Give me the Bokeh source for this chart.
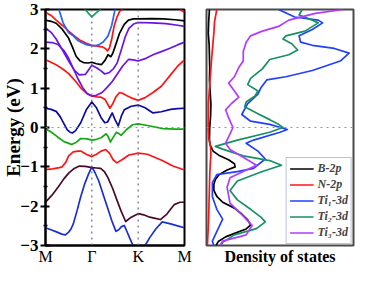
from bokeh.plotting import figure
from bokeh.models import Range1d, FixedTicker, Span, Legend, LegendItem
from bokeh.layouts import row
from bokeh.embed import file_html
from bokeh.resources import INLINE

SERIF = "Liberation Serif"

# ---------------- band structure data (k-path: M=0, Gamma=1, K=2, M=3) -------------
k_ticks = [0, 1, 2, 3]
k_labels = ["M", "Γ", "K", "M"]

band_blue_top_k = [0.18, 0.29, 0.38, 0.5, 0.6, 0.7, 0.8, 0.9, 1.0, 1.08, 1.15, 1.25, 1.35, 1.43, 1.5, 1.56]
band_blue_top_E = [3.3, 3.0, 2.66, 2.41, 2.33, 2.21, 2.15, 2.1, 2.08, 2.08, 2.1, 2.18, 2.33, 2.6, 3.0, 3.3]

band_red_top_k = [0, 0.12, 0.23, 0.36, 0.5, 0.63, 0.76, 0.88, 1.0, 1.12, 1.22, 1.3, 1.34, 1.38, 1.43, 1.48, 1.54, 1.6, 1.7, 1.8, 2.8, 2.88, 2.93, 3.0]
band_red_top_E = [2.93, 2.85, 2.73, 2.6, 2.45, 2.32, 2.21, 2.14, 2.09, 2.07, 2.05, 2.0, 1.95, 2.02, 2.25, 2.57, 2.8, 2.95, 3.05, 3.3, 3.3, 3.1, 2.98, 2.92]

band_black_k = [0, 0.12, 0.23, 0.36, 0.49, 0.58, 0.66, 0.74, 0.82, 0.92, 1.0, 1.1, 1.21, 1.28, 1.35, 1.41, 1.45, 1.5, 1.6, 1.7, 1.79, 1.9, 2.01, 2.3, 2.54, 2.8, 3.0]
band_black_E = [2.73, 2.7, 2.65, 2.5, 2.29, 2.05, 1.81, 1.7, 1.65, 1.64, 1.66, 1.62, 1.6, 1.7, 1.85, 1.8, 1.88, 2.05, 2.4, 2.62, 2.73, 2.76, 2.76, 2.77, 2.76, 2.74, 2.71]

band_violet_up_k = [0, 0.12, 0.23, 0.36, 0.5, 0.62, 0.73, 0.86, 0.94, 1.0, 1.1, 1.2, 1.28, 1.38, 1.47, 1.55, 1.63, 1.72, 1.8, 1.9, 2.0, 2.3, 2.6, 2.85, 3.0]
band_violet_up_E = [2.53, 2.42, 2.25, 1.98, 1.69, 1.46, 1.34, 1.35, 1.48, 1.58, 1.52, 1.44, 1.36, 1.4, 1.5, 1.65, 1.95, 2.3, 2.52, 2.63, 2.67, 2.66, 2.64, 2.6, 2.57]

band_violet_lo_k = [0, 0.14, 0.27, 0.4, 0.5, 0.6, 0.7, 0.8, 0.9, 1.0, 1.1, 1.22, 1.33, 1.44, 1.56, 1.67, 1.79, 1.9, 2.0, 2.15, 2.32, 2.5, 2.7, 2.85, 3.0]
band_violet_lo_E = [2.17, 2.16, 2.11, 1.95, 1.76, 1.5, 1.24, 1.02, 0.86, 0.8, 0.82, 0.89, 1.02, 1.17, 1.38, 1.57, 1.73, 1.72, 1.69, 1.75, 1.85, 1.93, 2.02, 2.1, 2.17]

band_red_mid_k = [0, 0.13, 0.25, 0.38, 0.5, 0.63, 0.76, 0.88, 1.0, 1.1, 1.2, 1.28, 1.33, 1.39, 1.45, 1.52, 1.6, 1.68, 1.76, 1.88, 2.0, 2.15, 2.32, 2.5, 2.72, 2.86, 3.0]
band_red_mid_E = [1.72, 1.65, 1.58, 1.48, 1.37, 1.2, 1.01, 0.88, 0.8, 0.78, 0.77, 0.72, 0.62, 0.49, 0.6, 0.78, 0.89, 0.86, 0.81, 0.74, 0.69, 0.76, 0.89, 1.05, 1.37, 1.57, 1.72]

band_navy_k = [0, 0.12, 0.23, 0.32, 0.4, 0.47, 0.53, 0.58, 0.65, 0.76, 0.88, 1.0, 1.1, 1.2, 1.28, 1.34, 1.44, 1.5, 1.57, 1.64, 1.7, 1.85, 2.0, 2.15, 2.32, 2.5, 2.7, 2.85, 3.0]
band_navy_E = [0.49, 0.46, 0.41, 0.27, 0.09, -0.06, -0.12, -0.14, -0.08, 0.12, 0.45, 0.65, 0.5, 0.25, 0.12, 0.14, 0.37, 0.2, 0.04, 0.3, 0.45, 0.54, 0.57, 0.5, 0.37, 0.4, 0.46, 0.48, 0.49]

band_green_k = [0, 0.13, 0.26, 0.4, 0.56, 0.66, 0.76, 0.9, 1.0, 1.1, 1.2, 1.31, 1.36, 1.4, 1.46, 1.53, 1.58, 1.63, 1.75, 1.88, 2.0, 2.2, 2.54, 2.8, 3.0]
band_green_E = [-0.03, -0.12, -0.24, -0.36, -0.43, -0.38, -0.28, -0.29, -0.32, -0.3, -0.26, -0.16, -0.25, -0.37, -0.25, -0.12, -0.15, -0.2, -0.05, 0.07, 0.09, 0.05, -0.03, -0.04, -0.04]

band_green_top_k = [0.78, 0.855, 0.93, 1.0, 1.08, 1.18, 1.25]
band_green_top_E = [3.3, 3.0, 2.9, 2.81, 2.9, 3.0, 3.3]

band_red_low_k = [0, 0.15, 0.3, 0.36, 0.44, 0.5, 0.6, 0.7, 0.76, 0.88, 1.0, 1.1, 1.2, 1.3, 1.38, 1.46, 1.54, 1.65, 1.8, 2.0, 2.2, 2.52, 2.75, 3.0]
band_red_low_E = [-1.07, -1.05, -1.02, -1.0, -0.88, -0.72, -0.62, -0.6, -0.6, -0.68, -0.74, -0.68, -0.6, -0.56, -0.65, -0.82, -0.9, -0.82, -0.7, -0.65, -0.68, -0.84, -0.98, -1.08]

band_maroon_k = [0, 0.14, 0.27, 0.4, 0.5, 0.62, 0.73, 0.86, 1.0, 1.1, 1.19, 1.27, 1.35, 1.45, 1.54, 1.63, 1.73, 1.85, 2.0, 2.12, 2.25, 2.37, 2.48, 2.62, 2.78, 2.9, 3.0]
band_maroon_E = [-1.9, -1.72, -1.52, -1.3, -1.16, -1.04, -0.98, -0.99, -1.02, -1.03, -1.04, -1.12, -1.28, -1.55, -1.84, -2.12, -2.39, -2.28, -2.19, -2.22, -2.28, -2.31, -2.34, -2.2, -1.96, -1.9, -1.9]

band_blue_low_k = [0, 0.12, 0.25, 0.35, 0.43, 0.5, 0.55, 0.6, 0.68, 0.76, 0.85, 0.93, 1.0, 1.07, 1.15, 1.25, 1.35, 1.44, 1.52, 1.58, 1.64, 1.7, 1.76, 1.82, 1.89, 1.95, 2.05, 2.12, 2.15, 2.25, 2.38, 2.52, 2.7, 2.85, 3.0]
band_blue_low_E = [-2.55, -2.6, -2.66, -2.71, -2.73, -2.66, -2.58, -2.45, -2.12, -1.76, -1.42, -1.18, -1.0, -1.15, -1.36, -1.72, -2.08, -2.4, -2.64, -2.6, -2.52, -2.49, -2.65, -2.82, -3.0, -3.15, -3.2, -3.05, -3.0, -2.8, -2.58, -2.4, -2.45, -2.5, -2.55]

# ---------------- density of states data ----------------
dos_B_E = [3.0, 2.7, 2.4, 2.1, 1.8, 1.5, 1.2, 0.9, 0.6, 0.3, 0.0, -0.3, -0.45, -0.6, -0.72, -0.82, -0.92, -1.0, -1.08, -1.2, -1.32, -1.45, -1.6, -1.75, -1.9, -2.05, -2.2, -2.35, -2.48, -2.58, -2.68, -2.78, -2.9, -3.0]
dos_B_v = [0.02, 0.015, 0.012, 0.018, 0.02, 0.022, 0.02, 0.025, 0.03, 0.028, 0.022, 0.02, 0.025, 0.045, 0.09, 0.15, 0.19, 0.195, 0.14, 0.085, 0.06, 0.05, 0.05, 0.07, 0.11, 0.19, 0.24, 0.28, 0.3, 0.27, 0.2, 0.13, 0.08, 0.065]

dos_N_E = [3.0, 2.7, 2.4, 2.1, 1.8, 1.5, 1.2, 0.9, 0.6, 0.3, 0.0, -0.3, -0.5, -0.7, -0.9, -1.2, -1.5, -1.8, -2.1, -2.4, -2.7, -3.0]
dos_N_v = [0.07, 0.055, 0.05, 0.043, 0.036, 0.03, 0.024, 0.018, 0.013, 0.013, 0.012, 0.016, 0.028, 0.03, 0.026, 0.022, 0.02, 0.018, 0.016, 0.014, 0.01, 0.006]

dos_Ti1_E = [3.0, 2.81, 2.73, 2.66, 2.49, 2.33, 2.17, 2.09, 2.01, 1.89, 1.69, 1.45, 1.29, 1.21, 1.01, 0.85, 0.61, 0.33, 0.16, 0.08, -0.05, -0.12, -0.32, -0.4, -0.6, -0.8, -1.04, -1.12, -1.2, -1.4, -1.76, -2.08, -2.33, -2.65, -2.89, -3.0]
dos_Ti1_v = [0.49, 0.6, 0.76, 0.79, 0.72, 0.63, 0.64, 0.72, 0.87, 0.97, 0.91, 0.72, 0.54, 0.41, 0.37, 0.35, 0.28, 0.24, 0.3, 0.43, 0.55, 0.5, 0.32, 0.27, 0.35, 0.4, 0.32, 0.21, 0.07, 0.04, 0.04, 0.07, 0.11, 0.07, 0.04, 0.05]

dos_Ti2_E = [3.0, 2.86, 2.73, 2.66, 2.45, 2.33, 2.25, 2.13, 1.97, 1.85, 1.73, 1.49, 1.25, 1.09, 0.93, 0.8, 0.65, 0.53, 0.37, 0.2, 0.08, 0.0, -0.12, -0.32, -0.48, -0.55, -0.72, -0.84, -0.96, -1.12, -1.36, -1.6, -1.84, -2.08, -2.28, -2.4, -2.57, -2.73, -2.92, -3.0]
dos_Ti2_v = [0.65, 0.63, 0.72, 0.76, 0.67, 0.54, 0.52, 0.58, 0.62, 0.56, 0.43, 0.38, 0.3, 0.28, 0.35, 0.33, 0.27, 0.26, 0.34, 0.43, 0.49, 0.52, 0.43, 0.21, 0.06, 0.11, 0.25, 0.43, 0.51, 0.38, 0.21, 0.16, 0.21, 0.3, 0.37, 0.4, 0.34, 0.19, 0.11, 0.1]

dos_Ti3_E = [3.0, 2.9, 2.73, 2.57, 2.45, 2.33, 2.17, 1.93, 1.69, 1.53, 1.29, 1.13, 0.93, 0.77, 0.61, 0.45, 0.25, 0.0, -0.16, -0.4, -0.56, -0.8, -0.96, -1.28, -1.52, -1.92, -2.25, -2.49, -2.73, -2.89, -3.0]
dos_Ti3_v = [0.93, 0.74, 0.56, 0.49, 0.38, 0.3, 0.27, 0.25, 0.25, 0.22, 0.19, 0.15, 0.19, 0.22, 0.17, 0.13, 0.15, 0.18, 0.16, 0.13, 0.16, 0.27, 0.34, 0.16, 0.14, 0.16, 0.25, 0.31, 0.27, 0.11, 0.09]

H = 267
TOP = 9
BOTTOM = 21

# ---------------- left panel: band structure ----------------
p1 = figure(width=192, height=H, x_range=Range1d(0, 3), y_range=Range1d(-3, 3),
            output_backend="svg", toolbar_location=None,
            min_border_left=34, min_border_right=8, min_border_top=TOP, min_border_bottom=BOTTOM)
p1.background_fill_color = "white"
p1.border_fill_color = "white"
p1.outline_line_color = "black"
p1.outline_line_width = 2
p1.grid.visible = False

ya = p1.yaxis[0]
ya.ticker = FixedTicker(ticks=[-3, -2, -1, 0, 1, 2, 3],
                        minor_ticks=[-2.5, -1.5, -0.5, 0.5, 1.5, 2.5])
ya.axis_line_width = 2
ya.major_tick_in = 4
ya.major_tick_out = 5
ya.major_tick_line_width = 2
ya.minor_tick_in = 2
ya.minor_tick_out = 2
ya.minor_tick_line_width = 1.5
ya.major_label_text_font = SERIF
ya.major_label_text_font_style = "bold"
ya.major_label_text_font_size = "17px"
ya.major_label_text_color = "black"
ya.major_label_standoff = 2
ya.axis_label = "Energy (eV)"
ya.axis_label_text_font = SERIF
ya.axis_label_text_font_style = "bold"
ya.axis_label_text_font_size = "19px"
ya.axis_label_text_color = "black"
ya.axis_label_standoff = -7

xa = p1.xaxis[0]
xa.ticker = FixedTicker(ticks=k_ticks, minor_ticks=[])
xa.major_label_overrides = {t: lab for t, lab in zip(k_ticks, k_labels)}
xa.axis_line_width = 2
xa.major_tick_in = 0
xa.major_tick_out = 0
xa.minor_tick_in = 0
xa.minor_tick_out = 0
xa.major_label_text_font = SERIF
xa.major_label_text_font_size = "16px"
xa.major_label_text_color = "black"
xa.major_label_standoff = 2

for loc in [1, 2]:
    p1.add_layout(Span(location=loc, dimension="height", line_color="#6a6a8a",
                       line_dash="dotted", line_width=1.2))
p1.add_layout(Span(location=0, dimension="width", line_color="#ff5c9a",
                   line_dash="dotted", line_width=1.2))

bands = [
    (band_blue_low_k, band_blue_low_E, "#1a2fd6"),
    (band_maroon_k, band_maroon_E, "#4a0a2a"),
    (band_red_low_k, band_red_low_E, "#ff1414"),
    (band_green_k, band_green_E, "#14a814"),
    (band_navy_k, band_navy_E, "#0c0ca0"),
    (band_red_mid_k, band_red_mid_E, "#ff1414"),
    (band_violet_lo_k, band_violet_lo_E, "#6a14e6"),
    (band_violet_up_k, band_violet_up_E, "#6a14e6"),
    (band_black_k, band_black_E, "black"),
    (band_red_top_k, band_red_top_E, "#ff1414"),
    (band_blue_top_k, band_blue_top_E, "#2a62ff"),
    (band_green_top_k, band_green_top_E, "#14a060"),
]
for kk, ee, col in bands:
    p1.line(kk, ee, line_color=col, line_width=1.7, line_join="round")

# ---------------- right panel: DOS ----------------
p2 = figure(width=163, height=H, x_range=Range1d(0, 1), y_range=Range1d(-3, 3),
            output_backend="svg", toolbar_location=None,
            min_border_left=14, min_border_right=2, min_border_top=TOP, min_border_bottom=BOTTOM)
p2.background_fill_color = "white"
p2.border_fill_color = "white"
p2.outline_line_color = "#4a4a4a"
p2.outline_line_width = 2
p2.grid.visible = False
p2.yaxis.visible = False

xb = p2.xaxis[0]
xb.ticker = FixedTicker(ticks=[], minor_ticks=[])
xb.axis_line_color = None
xb.major_tick_line_color = None
xb.minor_tick_line_color = None
xb.axis_label = "Density of states"
xb.axis_label_text_font = SERIF
xb.axis_label_text_font_style = "bold"
xb.axis_label_text_font_size = "16px"
xb.axis_label_text_color = "black"
xb.axis_label_standoff = 2

p2.add_layout(Span(location=0, dimension="width", line_color="#ff5c9a",
                   line_dash="dotted", line_width=1.2))

r_B = p2.line(dos_B_v, dos_B_E, line_color="black", line_width=1.7, line_join="round")
r_N = p2.line(dos_N_v, dos_N_E, line_color="#ff1414", line_width=1.7, line_join="round")
r_T1 = p2.line(dos_Ti1_v, dos_Ti1_E, line_color="#2040ff", line_width=1.7, line_join="round")
r_T2 = p2.line(dos_Ti2_v, dos_Ti2_E, line_color="#179064", line_width=1.7, line_join="round")
r_T3 = p2.line(dos_Ti3_v, dos_Ti3_E, line_color="#b03cff", line_width=1.7, line_join="round")

legend = Legend(items=[
    LegendItem(label="B-2p", renderers=[r_B]),
    LegendItem(label="N-2p", renderers=[r_N]),
    LegendItem(label="Ti\u2081-3d", renderers=[r_T1]),
    LegendItem(label="Ti\u2082-3d", renderers=[r_T2]),
    LegendItem(label="Ti\u2083-3d", renderers=[r_T3]),
], location="bottom_right")
legend.label_text_font = SERIF
legend.label_text_font_style = "bold italic"
legend.label_text_font_size = "12px"
legend.label_height = 15
legend.glyph_height = 15
legend.glyph_width = 24
legend.label_standoff = 4
legend.spacing = 1
legend.padding = 3
legend.margin = 1
legend.border_line_color = "#7a86b8"
legend.border_line_width = 1
legend.background_fill_alpha = 1.0
p2.add_layout(legend)

layout = row(p1, p2)
open("out.html", "w").write(file_html(layout, INLINE))
